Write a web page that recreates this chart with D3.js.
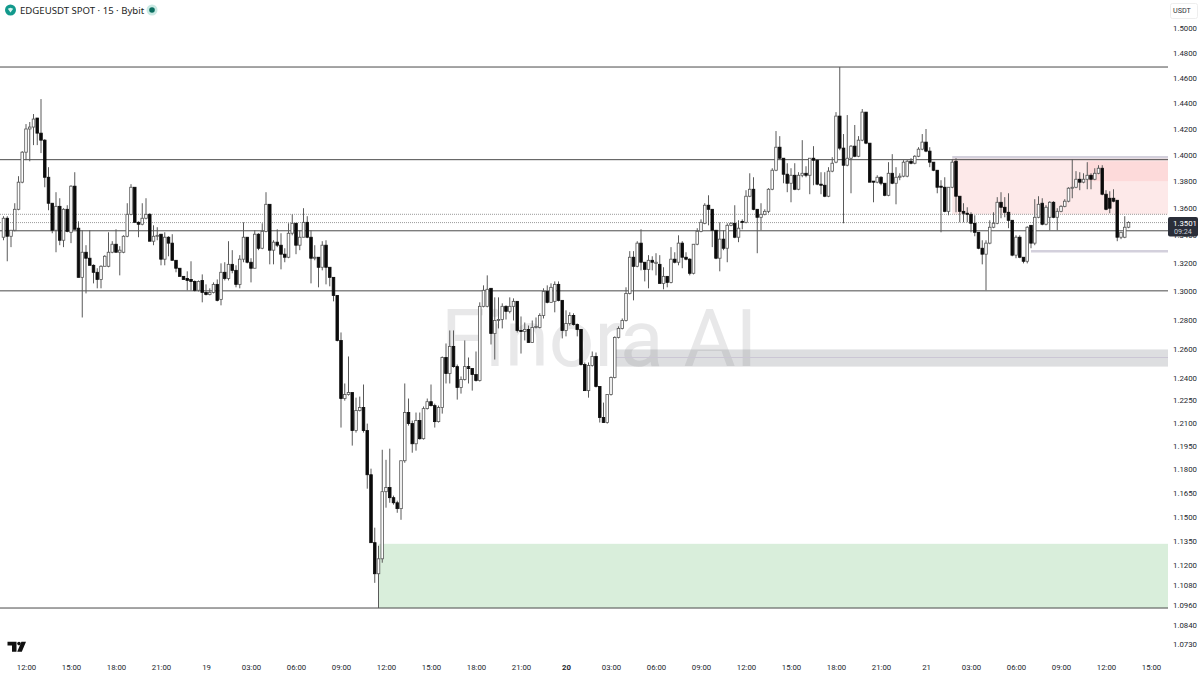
<!DOCTYPE html>
<html>
<head>
<meta charset="utf-8">
<title>EDGEUSDT</title>
<script src="https://cdn.jsdelivr.net/npm/d3@7"></script>
<style>
  html, body { margin: 0; padding: 0; background: #fff; }
  svg { display: block; }
  text { font-family: Roboto, sans-serif; }
  .axis text { fill: #23262d; font-size: 7.8px; font-family: Roboto, sans-serif; }
  .axis path, .axis line { display: none; }
</style>
</head>
<body>
<div id="chart"></div>
<script>
// 15 minute candles, one row per 10 candles
const opens = [
  1.3394,1.3533,1.3401,1.3445,1.3599,1.3801,1.4028,1.4206,1.4221,1.4291,
  1.4174,1.4120,1.3838,1.3644,1.3445,1.3621,1.3372,1.3599,1.3430,1.3771,
  1.3460,1.3105,1.3285,1.3242,1.3191,1.3141,1.3090,1.3184,1.3184,1.3285,
  1.3343,1.3285,1.3285,1.3401,1.3562,1.3763,1.3503,1.3489,1.3533,1.3562,
  1.3365,1.3401,1.3416,1.3235,1.3394,1.3351,1.3227,1.3170,1.3112,1.3097,
  1.3090,1.3076,1.3013,1.3083,1.2998,1.2984,1.2998,1.3055,1.2949,1.3141,
  1.3097,1.3198,1.3155,1.3055,1.3235,1.3394,1.3213,1.3170,1.3416,1.3314,
  1.3437,1.3636,1.3300,1.3358,1.3336,1.3271,1.3249,1.3423,1.3496,1.3336,
  1.3394,1.3503,1.3394,1.3242,1.3249,1.3177,1.3336,1.3177,1.3105,1.2977,
  1.2663,1.2269,1.2296,1.2309,1.2057,1.2189,1.2209,1.2057,1.1771,1.1344,
  1.1154,1.1245,1.1663,1.1689,1.1625,1.1593,1.1556,1.1861,1.2176,1.2103,
  1.1971,1.2123,1.2004,1.2202,1.2248,1.2222,1.2116,1.2209,1.2546,1.2437,
  1.2622,1.2484,1.2343,1.2397,1.2484,1.2471,1.2430,1.2390,1.2900,1.2900,
  1.3027,1.2711,1.2801,1.2808,1.2900,1.2865,1.2900,1.2935,1.2732,1.2725,
  1.2739,1.2649,1.2753,1.2753,1.2836,1.3005,1.2928,1.2935,1.3055,1.2942,
  1.2732,1.2780,1.2836,1.2773,1.2739,1.2498,1.2322,1.2491,1.2553,1.2350,
  1.2143,1.2110,1.2296,1.2410,1.2684,1.2746,1.2801,1.2991,1.3249,1.3184,
  1.3351,1.3213,1.3162,1.3227,1.3205,1.3198,1.3062,1.3112,1.3069,1.3235,
  1.3213,1.3351,1.3249,1.3235,1.3134,1.3343,1.3437,1.3496,1.3629,1.3599,
  1.3445,1.3242,1.3380,1.3314,1.3481,1.3496,1.3394,1.3510,1.3503,1.3696,
  1.3748,1.3599,1.3540,1.3562,1.3584,1.3748,1.3891,1.4066,1.3982,1.3861,
  1.3793,1.3853,1.3748,1.3853,1.3868,1.3853,1.3982,1.3967,1.3786,1.3778,
  1.3696,1.3884,1.3952,1.4306,1.4059,1.3929,1.3982,1.4074,1.3997,1.4120,
  1.4337,1.4097,1.3809,1.3801,1.3838,1.3793,1.3703,1.3868,1.3793,1.3838,
  1.3846,1.3846,1.3959,1.3944,1.3997,1.4051,1.4105,1.4036,1.3952,1.3891,
  1.3771,1.3763,1.3584,1.3763,1.3959,1.3696,1.3584,1.3570,1.3562,1.3496,
  1.3430,1.3314,1.3271,1.3351,1.3467,1.3496,1.3651,1.3614,1.3577,1.3518,
  1.3264,1.3394,1.3249,1.3220,1.3481,1.3351,1.3540,1.3644,1.3489,1.3540,
  1.3651,1.3540,1.3584,1.3621,1.3659,1.3756,1.3763,1.3823,1.3801,1.3823,
  1.3853,1.3823,1.3868,1.3906,1.3711,1.3681,1.3681,1.3666,1.3394,1.3394,
  1.3467
]
const highs = [
  1.3548,1.3548,1.3445,1.3644,1.3846,1.4036,1.4244,1.4260,1.4322,1.4291,
  1.4439,1.4128,1.3914,1.3644,1.3726,1.3681,1.3607,1.3629,1.3778,1.3876,
  1.3510,1.3445,1.3336,1.3445,1.3198,1.3170,1.3191,1.3264,1.3430,1.3365,
  1.3452,1.3329,1.3408,1.3644,1.3786,1.3763,1.3510,1.3644,1.3681,1.3570,
  1.3481,1.3467,1.3416,1.3430,1.3401,1.3416,1.3227,1.3170,1.3112,1.3148,
  1.3220,1.3083,1.3083,1.3126,1.3055,1.3027,1.3069,1.3090,1.3205,1.3213,
  1.3365,1.3300,1.3191,1.3264,1.3503,1.3394,1.3242,1.3445,1.3423,1.3496,
  1.3726,1.3636,1.3372,1.3452,1.3423,1.3314,1.3496,1.3562,1.3496,1.3445,
  1.3607,1.3548,1.3445,1.3336,1.3249,1.3365,1.3372,1.3177,1.3105,1.2977,
  1.2718,1.2370,1.2553,1.2309,1.2275,1.2282,1.2363,1.2103,1.1810,1.1437,
  1.1325,1.1932,1.1867,1.1939,1.1638,1.1606,1.1861,1.2370,1.2269,1.2123,
  1.2176,1.2176,1.2216,1.2269,1.2363,1.2235,1.2222,1.2553,1.2642,1.2732,
  1.2732,1.2498,1.2417,1.2663,1.2546,1.2471,1.2587,1.2928,1.3048,1.3119,
  1.3027,1.2963,1.2963,1.2921,1.2907,1.2963,1.2956,1.2935,1.2829,1.2787,
  1.2766,1.2801,1.2822,1.2851,1.3027,1.3048,1.3062,1.3076,1.3076,1.2942,
  1.2872,1.2858,1.2851,1.2780,1.2739,1.2512,1.2512,1.2587,1.2580,1.2350,
  1.2242,1.2296,1.2417,1.2691,1.2760,1.2815,1.3034,1.3293,1.3293,1.3365,
  1.3452,1.3213,1.3264,1.3256,1.3278,1.3264,1.3177,1.3112,1.3322,1.3285,
  1.3408,1.3365,1.3285,1.3242,1.3343,1.3460,1.3525,1.3644,1.3703,1.3599,
  1.3445,1.3503,1.3445,1.3496,1.3503,1.3629,1.3518,1.3525,1.3741,1.3868,
  1.3838,1.3599,1.3644,1.3599,1.3756,1.3906,1.4190,1.4151,1.3982,1.3944,
  1.3906,1.3944,1.3876,1.4120,1.3921,1.3982,1.4074,1.3975,1.3876,1.3876,
  1.3914,1.3990,1.4337,1.4693,1.4167,1.4314,1.4082,1.4237,1.4151,1.4361,
  1.4337,1.4097,1.3809,1.3853,1.3846,1.3793,1.3952,1.4013,1.3914,1.3868,
  1.3967,1.3967,1.3982,1.4005,1.4066,1.4167,1.4206,1.4066,1.3952,1.3891,
  1.3816,1.3838,1.3763,1.3975,1.3982,1.3696,1.3644,1.3614,1.3577,1.3555,
  1.3430,1.3372,1.3372,1.3518,1.3577,1.3689,1.3726,1.3689,1.3718,1.3518,
  1.3408,1.3408,1.3249,1.3474,1.3481,1.3674,1.3696,1.3681,1.3629,1.3659,
  1.3659,1.3607,1.3629,1.3674,1.3763,1.3975,1.3884,1.3876,1.3868,1.3952,
  1.3868,1.3906,1.3929,1.3929,1.3741,1.3733,1.3748,1.3666,1.3430,1.3548,
  1.3510
]
const lows = [
  1.3372,1.3220,1.3322,1.3437,1.3592,1.3793,1.3967,1.3959,1.4082,1.4082,
  1.4021,1.3763,1.3592,1.3423,1.3285,1.3336,1.3322,1.3430,1.3351,1.3452,
  1.3105,1.2822,1.2991,1.3191,1.3062,1.3027,1.3027,1.3184,1.3177,1.3278,
  1.3285,1.3119,1.3278,1.3394,1.3555,1.3503,1.3394,1.3481,1.3525,1.3365,
  1.3336,1.3372,1.3191,1.3191,1.3256,1.3227,1.3141,1.3112,1.3090,1.3013,
  1.3013,1.3005,1.3005,1.2928,1.2977,1.2977,1.2991,1.2935,1.2907,1.3083,
  1.3083,1.3134,1.3034,1.3027,1.3213,1.3205,1.3069,1.3170,1.3300,1.3307,
  1.3430,1.3198,1.3198,1.3322,1.3162,1.3213,1.3242,1.3408,1.3271,1.3300,
  1.3394,1.3387,1.3062,1.3227,1.3034,1.3155,1.3055,1.3041,1.2935,1.2656,
  1.2077,1.2255,1.2289,1.1959,1.2044,1.2183,1.2044,1.1682,1.1344,1.1099,
  1.0948,1.1221,1.1562,1.1593,1.1581,1.1530,1.1486,1.1848,1.2090,1.1913,
  1.1926,1.1998,1.1998,1.2196,1.2216,1.2077,1.2110,1.2169,1.2370,1.2370,
  1.2477,1.2262,1.2302,1.2390,1.2370,1.2322,1.2383,1.2383,1.2893,1.2893,
  1.2635,1.2532,1.2746,1.2746,1.2808,1.2851,1.2801,1.2718,1.2573,1.2663,
  1.2649,1.2649,1.2746,1.2746,1.2815,1.2921,1.2928,1.2858,1.2935,1.2677,
  1.2691,1.2766,1.2766,1.2691,1.2491,1.2322,1.2275,1.2484,1.2343,1.2110,
  1.2110,1.2103,1.2289,1.2404,1.2677,1.2739,1.2794,1.2984,1.2942,1.3177,
  1.3155,1.3076,1.3027,1.3155,1.3119,1.3062,1.3020,1.3034,1.3062,1.3205,
  1.3191,1.3170,1.3227,1.3119,1.3126,1.3336,1.3430,1.3489,1.3481,1.3322,
  1.3235,1.3148,1.3300,1.3213,1.3474,1.3387,1.3358,1.3452,1.3496,1.3689,
  1.3592,1.3278,1.3445,1.3555,1.3570,1.3741,1.3884,1.3975,1.3793,1.3726,
  1.3651,1.3741,1.3741,1.3838,1.3838,1.3711,1.3778,1.3778,1.3711,1.3689,
  1.3689,1.3876,1.3944,1.4043,1.3496,1.3921,1.3718,1.3990,1.3990,1.4112,
  1.4089,1.3801,1.3651,1.3793,1.3778,1.3696,1.3696,1.3786,1.3636,1.3816,
  1.3838,1.3838,1.3936,1.3936,1.3990,1.4043,1.4028,1.3914,1.3884,1.3718,
  1.3430,1.3577,1.3555,1.3756,1.3577,1.3503,1.3503,1.3503,1.3430,1.3401,
  1.3307,1.3198,1.3013,1.3343,1.3460,1.3489,1.3533,1.3540,1.3460,1.3256,
  1.3242,1.3242,1.3205,1.3205,1.3314,1.3336,1.3533,1.3481,1.3481,1.3445,
  1.3533,1.3445,1.3577,1.3614,1.3651,1.3681,1.3756,1.3741,1.3793,1.3748,
  1.3748,1.3816,1.3861,1.3703,1.3592,1.3570,1.3651,1.3365,1.3380,1.3387,
  1.3460
]
const closes = [
  1.3533,1.3401,1.3445,1.3599,1.3801,1.4028,1.4206,1.4221,1.4283,1.4174,
  1.4120,1.3838,1.3644,1.3445,1.3621,1.3372,1.3599,1.3437,1.3771,1.3452,
  1.3105,1.3285,1.3242,1.3191,1.3141,1.3090,1.3184,1.3256,1.3285,1.3343,
  1.3285,1.3300,1.3401,1.3562,1.3763,1.3503,1.3489,1.3533,1.3562,1.3365,
  1.3401,1.3408,1.3235,1.3394,1.3351,1.3227,1.3170,1.3112,1.3090,1.3083,
  1.3076,1.3013,1.3076,1.2998,1.2984,1.2998,1.3055,1.2942,1.3141,1.3097,
  1.3198,1.3155,1.3055,1.3235,1.3394,1.3213,1.3170,1.3416,1.3314,1.3437,
  1.3636,1.3300,1.3358,1.3336,1.3271,1.3249,1.3423,1.3496,1.3336,1.3394,
  1.3503,1.3394,1.3242,1.3249,1.3177,1.3336,1.3177,1.3105,1.2977,1.2663,
  1.2269,1.2296,1.2309,1.2057,1.2189,1.2209,1.2057,1.1771,1.1344,1.1154,
  1.1245,1.1663,1.1689,1.1625,1.1593,1.1556,1.1861,1.2176,1.2103,1.1971,
  1.2123,1.2004,1.2202,1.2248,1.2222,1.2116,1.2209,1.2546,1.2437,1.2622,
  1.2484,1.2343,1.2397,1.2484,1.2471,1.2430,1.2390,1.2900,1.3013,1.3020,
  1.2711,1.2801,1.2808,1.2900,1.2865,1.2900,1.2935,1.2732,1.2725,1.2739,
  1.2649,1.2753,1.2760,1.2836,1.3005,1.2928,1.3034,1.3055,1.2942,1.2732,
  1.2780,1.2836,1.2773,1.2739,1.2498,1.2322,1.2491,1.2553,1.2350,1.2143,
  1.2110,1.2296,1.2410,1.2684,1.2746,1.2801,1.2991,1.3249,1.3184,1.3351,
  1.3213,1.3162,1.3227,1.3213,1.3213,1.3062,1.3112,1.3069,1.3235,1.3213,
  1.3351,1.3249,1.3235,1.3134,1.3343,1.3437,1.3503,1.3629,1.3599,1.3445,
  1.3242,1.3380,1.3314,1.3481,1.3496,1.3394,1.3460,1.3503,1.3696,1.3748,
  1.3599,1.3540,1.3562,1.3584,1.3748,1.3891,1.4066,1.3982,1.3861,1.3793,
  1.3853,1.3748,1.3853,1.3868,1.3853,1.3982,1.3967,1.3786,1.3778,1.3696,
  1.3884,1.3944,1.4306,1.4059,1.3929,1.3982,1.4074,1.3997,1.4120,1.4337,
  1.4097,1.3801,1.3801,1.3838,1.3793,1.3703,1.3868,1.3793,1.3838,1.3846,
  1.3952,1.3959,1.3944,1.3997,1.4051,1.4105,1.4036,1.3952,1.3891,1.3763,
  1.3763,1.3584,1.3763,1.3952,1.3696,1.3584,1.3570,1.3562,1.3496,1.3430,
  1.3314,1.3271,1.3351,1.3467,1.3496,1.3651,1.3614,1.3577,1.3518,1.3264,
  1.3394,1.3249,1.3220,1.3467,1.3351,1.3540,1.3636,1.3489,1.3614,1.3651,
  1.3540,1.3584,1.3621,1.3659,1.3756,1.3763,1.3823,1.3801,1.3823,1.3853,
  1.3823,1.3868,1.3906,1.3711,1.3599,1.3607,1.3659,1.3394,1.3430,1.3467,
  1.3501
]

// Axis ticks
const priceTicks = [1.5, 1.48, 1.46, 1.44, 1.42, 1.4, 1.38, 1.36, 1.34, 1.32, 1.3, 1.28, 1.26, 1.24, 1.225, 1.21, 1.195, 1.18, 1.165, 1.15, 1.135, 1.12, 1.108, 1.096, 1.084, 1.073]
const timeTickCandles = d3.range(6, 307, 12)
const timeTickLabels = ['12:00', '15:00', '18:00', '21:00', '19', '03:00', '06:00', '09:00', '12:00', '15:00', '18:00', '21:00', '20', '03:00', '06:00', '09:00', '12:00', '15:00', '18:00', '21:00', '21', '03:00', '06:00', '09:00', '12:00', '15:00']

// Levels and zones, prices
const levelPrices = [1.4693, 1.3971, 1.3441, 1.3009, 1.0948]
const dottedPrices = [1.3562, 1.3501]
const redZone = { from: 253, top: 1.3985, bottom: 1.3562 }
const redInnerZone = { from: 289, top: 1.3959, bottom: 1.3809 }
const greenZone = { from: 100, top: 1.1337, bottom: 1.0948 }
const grayZone = { from: 163, top: 1.2601, bottom: 1.2484 }
const thickLines = [{ from: 253, price: 1.399 }, { from: 274, price: 1.3293 }]
const grayMidline = { from: 163, price: 1.2546 }
const lastPrice = 1.3501

const width = 1200
const height = 675
const plotRight = 1168
const candleWidth = 2.6

const svg = d3.select('#chart')
  .append('svg')
  .attr('width', width)
  .attr('height', height)
  .attr('viewBox', `0 0 ${width} ${height}`)

// Scales
const xScale = d3.scaleLinear().domain([0, 300]).range([3.5, 1128.5])
const yScale = d3.scaleLog().domain([1.5, 1.073]).range([29, 645])

// Watermark sits under everything else
svg.append('text')
  .attr('x', 441)
  .attr('y', 366)
  .attr('font-size', 80)
  .attr('font-weight', 400)
  .attr('fill', 'rgba(90, 90, 100, 0.14)')
  .text('Finora AI')

// Zones
const zones = [
  { ...redZone, color: '#fde9e9' },
  { ...redInnerZone, color: '#fddada' },
  { ...greenZone, color: '#d9eedb' },
  { ...grayZone, color: 'rgba(120, 122, 130, 0.25)' }
]

svg.append('g')
  .selectAll('rect')
  .data(zones)
  .join('rect')
  .attr('x', d => xScale(d.from))
  .attr('y', d => yScale(d.top))
  .attr('width', d => plotRight - xScale(d.from))
  .attr('height', d => yScale(d.bottom) - yScale(d.top))
  .attr('fill', d => d.color)

svg.append('line')
  .attr('x1', xScale(grayMidline.from))
  .attr('x2', plotRight)
  .attr('y1', yScale(grayMidline.price))
  .attr('y2', yScale(grayMidline.price))
  .attr('stroke', '#cbc6d4')

svg.append('g')
  .selectAll('line')
  .data(thickLines)
  .join('line')
  .attr('x1', d => xScale(d.from))
  .attr('x2', plotRight)
  .attr('y1', d => yScale(d.price))
  .attr('y2', d => yScale(d.price))
  .attr('stroke', '#d3d0dc')
  .attr('stroke-width', 2.5)

// Dotted price lines
svg.append('g')
  .selectAll('line')
  .data(dottedPrices)
  .join('line')
  .attr('x1', 0)
  .attr('x2', plotRight)
  .attr('y1', d => yScale(d))
  .attr('y2', d => yScale(d))
  .attr('stroke', '#9a9a9a')
  .attr('stroke-dasharray', '1 1')

// Horizontal levels
svg.append('g')
  .selectAll('line')
  .data(levelPrices)
  .join('line')
  .attr('x1', 0)
  .attr('x2', plotRight)
  .attr('y1', d => yScale(d))
  .attr('y2', d => yScale(d))
  .attr('stroke', '#4a4a4a')
  .attr('stroke-width', 1)

// Candles
const candles = svg.append('g')
  .selectAll('g')
  .data(opens.map((open, i) => i))
  .join('g')
  .attr('transform', i => `translate(${xScale(i)},0)`)

candles.append('line')
  .attr('y1', i => yScale(highs[i]))
  .attr('y2', i => yScale(lows[i]))
  .attr('stroke', '#5a5a5a')
  .attr('stroke-width', 1)

candles.append('rect')
  .attr('x', -candleWidth / 2)
  .attr('width', candleWidth)
  .attr('y', i => yScale(Math.max(opens[i], closes[i])))
  .attr('height', i => Math.max(1, Math.abs(yScale(opens[i]) - yScale(closes[i]))))
  .attr('fill', i => closes[i] >= opens[i] ? '#fff' : '#0b0b0b')
  .attr('stroke', i => closes[i] >= opens[i] ? '#555' : '#0b0b0b')
  .attr('stroke-width', 0.8)

// Right axis - price
svg.append('g')
  .attr('class', 'axis')
  .attr('transform', 'translate(1173,-1)')
  .call(d3.axisRight(yScale).tickValues(priceTicks).tickSize(0).tickPadding(0).tickFormat(d3.format('.4f')))

// Bottom axis - time
svg.append('g')
  .attr('class', 'axis')
  .attr('transform', 'translate(0,664.5)')
  .call(d3.axisBottom(xScale).tickValues(timeTickCandles).tickSize(0).tickPadding(0).tickFormat((d, i) => timeTickLabels[i]))
  .selectAll('text')
  .attr('font-weight', d => timeTickLabels[timeTickCandles.indexOf(d)] === '20' ? 700 : 400)

// Last price tag
const lastY = yScale(lastPrice)
svg.append('rect')
  .attr('x', 1168)
  .attr('y', lastY - 5.5)
  .attr('width', 30)
  .attr('height', 19.5)
  .attr('rx', 2)
  .attr('fill', '#2a2e39')
svg.append('text')
  .attr('x', 1173)
  .attr('y', lastY + 3)
  .attr('font-size', 7.8)
  .attr('fill', '#fff')
  .text(d3.format('.4f')(lastPrice))
svg.append('text')
  .attr('x', 1174)
  .attr('y', lastY + 11.5)
  .attr('font-size', 7.2)
  .attr('fill', '#c9ccd3')
  .text('09:24')

// Currency box
svg.append('rect')
  .attr('x', 1170.5)
  .attr('y', 3.5)
  .attr('width', 27)
  .attr('height', 15)
  .attr('rx', 2)
  .attr('fill', '#fff')
  .attr('stroke', '#eeeeee')
svg.append('text')
  .attr('x', 1173)
  .attr('y', 13)
  .attr('font-size', 7.2)
  .attr('fill', '#2f323a')
  .text('USDT')

// Header
svg.append('circle').attr('cx', 10.5).attr('cy', 10).attr('r', 5.5).attr('fill', '#12998c')
svg.append('path').attr('d', 'M7.8 8.7 L10.5 7.7 L13.2 8.7 L10.5 12.6 Z').attr('fill', '#d7f3ee')
svg.append('text')
  .attr('x', 20)
  .attr('y', 13.5)
  .attr('font-size', 9.6)
  .attr('fill', '#1c1e24')
  .style('font-family', '"Noto Sans", sans-serif')
  .text('EDGEUSDT SPOT · 15 · Bybit')
svg.append('circle').attr('cx', 152).attr('cy', 10).attr('r', 5.5).attr('fill', '#c9e9e3')
svg.append('circle').attr('cx', 152).attr('cy', 10).attr('r', 2.8).attr('fill', '#0b6e60')

// Logo
svg.append('path')
  .attr('d', 'M7.5 641.8 H16.5 V651.7 H12 V645.4 H7.5 Z M26 641.8 L21.8 651.7 H17.2 L21.4 641.8 Z')
  .attr('fill', '#111')
svg.append('circle').attr('cx', 19).attr('cy', 643.6).attr('r', 1.8).attr('fill', '#111')
</script>
</body>
</html>
